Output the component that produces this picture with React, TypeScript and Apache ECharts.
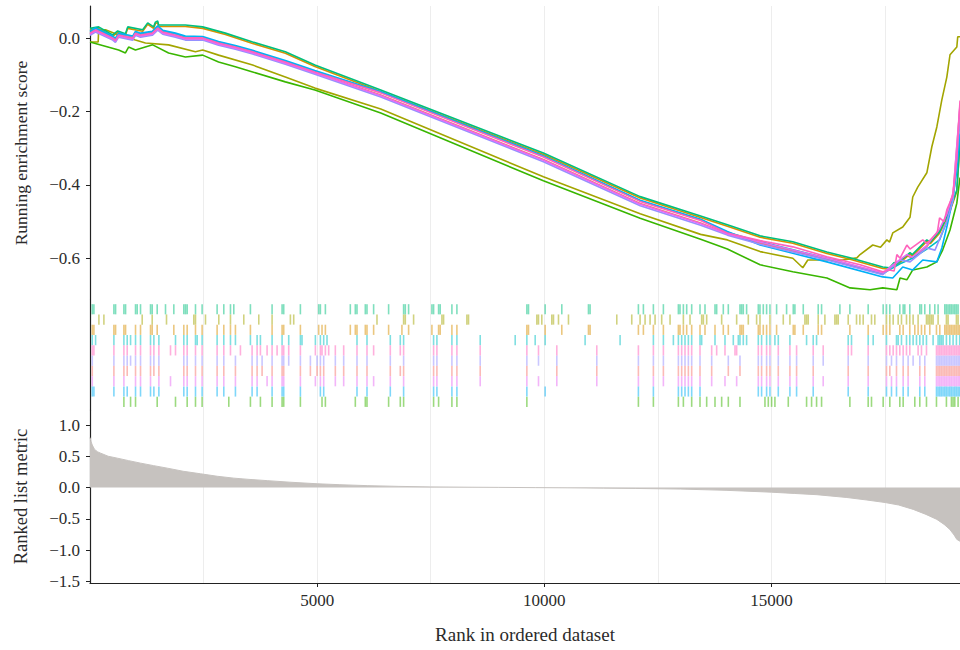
import React, { useEffect, useRef } from 'react';
import * as echarts from 'echarts';

const X_MAX = 19150;
const xTickLabels = [5000, 10000, 15000];
const esTicks = [-0.6, -0.4, -0.2, 0];
const metricTicks = [-1.5, -1, -0.5, 0, 0.5, 1];

// Running enrichment score curves: [rank, ES]
const curveSalmon = [[0,0.011],[120,0.02],[500,-0.002],[560,-0.008],[630,0.006],[940,-0.002],[1000,0.011],[1110,0.006],[1370,0.011],[1490,0.025],[1600,0.014],[1880,0.006],[2100,-0.002],[2480,-0.002],[2830,-0.016],[3200,-0.027],[3580,-0.04],[4300,-0.068],[4950,-0.095],[6400,-0.155],[9980,-0.331],[12110,-0.451],[13440,-0.504],[14030,-0.533],[14750,-0.559],[16220,-0.603],[17450,-0.643],[17760,-0.613],[17980,-0.593],[18100,-0.6],[18420,-0.568],[18700,-0.523],[18860,-0.483],[19000,-0.423],[19150,-0.185]];
const curveOrange = [[0,0.023],[190,0.027],[500,0.005],[610,0.016],[780,0.008],[830,0.027],[1160,0.019],[1270,0.038],[1400,0.027],[1440,0.04],[1490,0.043],[1510,0.032],[2100,0.032],[2480,0.027],[2980,0.01],[3580,-0.014],[4300,-0.041],[4950,-0.077],[6400,-0.145],[9980,-0.317],[12110,-0.436],[13440,-0.489],[14030,-0.513],[14750,-0.543],[15470,-0.559],[16220,-0.587],[16730,-0.603],[17450,-0.628],[17600,-0.63],[17700,-0.616],[17760,-0.619],[18050,-0.589],[18100,-0.594],[18420,-0.554],[18500,-0.56],[18700,-0.532],[18930,-0.472],[19080,-0.418],[19150,-0.284]];
const curveOlive = [[0,-0.01],[180,-0.01],[190,0.023],[340,0.023],[630,0.009],[1000,-0.005],[1220,-0.013],[1730,-0.018],[2320,-0.037],[2480,-0.032],[2830,-0.046],[3580,-0.073],[4300,-0.106],[4950,-0.136],[6400,-0.193],[9980,-0.378],[12110,-0.479],[13440,-0.535],[14030,-0.55],[14750,-0.582],[15470,-0.6],[15690,-0.626],[15800,-0.605],[16570,-0.605],[16880,-0.599],[16950,-0.59],[17230,-0.564],[17400,-0.57],[17540,-0.55],[17600,-0.556],[17670,-0.531],[17890,-0.515],[18050,-0.488],[18110,-0.433],[18220,-0.406],[18420,-0.367],[18530,-0.296],[18640,-0.242],[18750,-0.168],[18860,-0.106],[18930,-0.045],[19080,-0.024],[19100,0.004],[19150,0.004]];
const curveGreen = [[0,-0.01],[630,-0.032],[780,-0.04],[850,-0.024],[1000,-0.032],[1380,-0.018],[1730,-0.04],[2100,-0.051],[2480,-0.046],[2830,-0.065],[3200,-0.078],[3580,-0.092],[4300,-0.119],[4950,-0.141],[6400,-0.204],[9980,-0.389],[12110,-0.491],[13440,-0.548],[14030,-0.575],[14750,-0.618],[15470,-0.637],[16220,-0.654],[16730,-0.681],[17170,-0.686],[17450,-0.681],[17760,-0.686],[17830,-0.654],[17980,-0.659],[18110,-0.632],[18420,-0.624],[18640,-0.61],[18770,-0.577],[18930,-0.523],[19080,-0.45],[19150,-0.38]];
const curveTeal = [[0,0.027],[190,0.031],[500,0.009],[610,0.02],[780,0.012],[830,0.031],[1160,0.023],[1270,0.042],[1400,0.031],[1440,0.044],[1490,0.047],[1510,0.036],[2100,0.036],[2480,0.031],[2980,0.014],[3580,-0.01],[4300,-0.037],[4950,-0.073],[6400,-0.141],[9980,-0.313],[12110,-0.432],[13440,-0.485],[14030,-0.509],[14750,-0.539],[15470,-0.555],[16220,-0.583],[16730,-0.599],[17450,-0.624],[17600,-0.626],[17700,-0.612],[17760,-0.615],[18050,-0.585],[18100,-0.59],[18420,-0.55],[18500,-0.556],[18700,-0.528],[18930,-0.468],[19080,-0.414],[19150,-0.28]];
const curveCyan = [[0,0.016],[120,0.025],[500,0.003],[560,-0.003],[630,0.011],[940,0.003],[1000,0.016],[1110,0.011],[1370,0.016],[1490,0.03],[1600,0.019],[1880,0.011],[2100,0.003],[2480,0.003],[2830,-0.011],[3200,-0.022],[3580,-0.035],[4300,-0.063],[4950,-0.09],[6400,-0.147],[9980,-0.322],[12110,-0.443],[13440,-0.495],[14030,-0.529],[14750,-0.555],[16220,-0.6],[17450,-0.642],[17830,-0.615],[18100,-0.6],[18420,-0.575],[18700,-0.55],[18860,-0.5],[19000,-0.43],[19080,-0.35],[19150,-0.2]];
const curveBlue = [[0,0.019],[120,0.028],[500,0.006],[560,0.0],[630,0.014],[940,0.006],[1000,0.019],[1110,0.014],[1370,0.019],[1490,0.034],[1600,0.022],[1880,0.014],[2100,0.006],[2480,0.005],[2830,-0.009],[3200,-0.02],[3580,-0.033],[4300,-0.061],[4950,-0.088],[6400,-0.146],[9980,-0.321],[12110,-0.442],[13440,-0.494],[14030,-0.527],[14750,-0.564],[16220,-0.61],[17450,-0.651],[17670,-0.654],[17890,-0.624],[18110,-0.632],[18330,-0.605],[18640,-0.61],[18750,-0.572],[18860,-0.515],[18990,-0.441],[19080,-0.36],[19150,-0.26]];
const curveLavender = [[0,0.008],[120,0.017],[500,-0.005],[560,-0.011],[630,0.003],[940,-0.005],[1000,0.008],[1110,0.003],[1370,0.008],[1490,0.022],[1600,0.011],[1880,0.003],[2100,-0.005],[2480,-0.005],[2830,-0.019],[3200,-0.03],[3580,-0.043],[4300,-0.071],[4950,-0.098],[6400,-0.16],[9980,-0.337],[12110,-0.457],[13440,-0.51],[14030,-0.537],[14750,-0.562],[16220,-0.605],[17450,-0.645],[17830,-0.605],[18050,-0.61],[18420,-0.572],[18600,-0.578],[18860,-0.5],[19000,-0.44],[19150,-0.22]];
const curveOrchid = [[0,0.011],[120,0.02],[500,-0.002],[560,-0.008],[630,0.006],[940,-0.002],[1000,0.011],[1110,0.006],[1370,0.011],[1490,0.025],[1600,0.014],[1880,0.006],[2100,-0.002],[2480,-0.002],[2830,-0.016],[3200,-0.027],[3580,-0.04],[4300,-0.068],[4950,-0.095],[6400,-0.157],[9980,-0.333],[12110,-0.453],[13440,-0.506],[14030,-0.534],[14750,-0.556],[16220,-0.6],[17450,-0.64],[17760,-0.61],[17980,-0.59],[18100,-0.597],[18420,-0.565],[18700,-0.52],[18860,-0.48],[19000,-0.42],[19150,-0.18]];
const curvePink = [[0,0.014],[120,0.023],[500,0.001],[560,-0.005],[630,0.009],[940,0.001],[1000,0.014],[1110,0.009],[1370,0.014],[1490,0.028],[1600,0.017],[1880,0.009],[2100,0.001],[2480,0.001],[2830,-0.013],[3200,-0.024],[3580,-0.037],[4300,-0.065],[4950,-0.092],[6400,-0.149],[9980,-0.324],[12110,-0.445],[13440,-0.497],[14030,-0.531],[14750,-0.552],[15470,-0.569],[16220,-0.596],[16950,-0.618],[17450,-0.637],[17600,-0.632],[17700,-0.635],[17760,-0.59],[17830,-0.6],[17980,-0.564],[18050,-0.575],[18330,-0.55],[18420,-0.56],[18650,-0.53],[18700,-0.49],[18800,-0.5],[18860,-0.468],[18990,-0.43],[19080,-0.33],[19150,-0.17]];

// Hit positions (ranks) per gene set
const hitsTeal = [50,86,526,563,746,783,1002,1039,1112,1332,1369,1479,1662,1845,2065,2102,2139,2322,2468,2798,2945,3092,3165,3531,4008,4228,4264,4631,5034,5071,5181,5730,5840,5877,6060,6097,6243,6573,6903,6940,7013,7526,7563,7673,7709,7966,8076,9616,9652,10019,10385,10972,11008,12071,12181,12401,12621,12951,12987,13061,13134,13244,13427,13537,13757,13794,13940,14050,14307,14343,14380,14453,14710,14747,14820,14893,14967,15113,15333,15480,15516,15700,16029,16103,16506,16726,17129,17459,17532,17605,17825,17899,17935,18045,18265,18302,18375,18485,18595,18668,18815,18851,18888,18925,18961,18998,19035,19071,19108];
const hitsOlive = [196,306,1149,1369,1684,2285,2322,2542,2835,3092,3385,3715,4008,4411,4484,6317,6903,6940,7123,7746,7783,8296,8332,9836,9872,9945,10165,10202,10312,10532,11595,11925,12108,12218,12328,12438,12584,12768,13061,13207,13464,13501,13574,13904,14234,14490,14673,14747,14967,15260,15406,15736,15773,15809,16029,16176,16396,16433,16469,16689,16872,16946,17019,17202,17275,17532,17605,17679,17789,17862,17972,18045,18118,18228,18412,18448,18485,18522,18558,18668,18851,18888,19071,19108];
const hitsOrange = [50,86,526,563,746,783,1002,1112,1332,1369,1479,1845,2065,2139,2322,2468,2798,2945,3092,3201,3531,4008,4228,4264,4631,5034,5107,5181,5730,5840,5877,6060,6097,6243,6573,6866,7013,7526,7673,7709,7966,8076,9616,9652,10019,10385,10972,11008,12071,12181,12401,12621,12951,12987,13061,13134,13244,13427,13537,13757,13940,14050,14307,14343,14380,14710,14747,14820,14893,14967,15113,15480,15516,15700,16029,16103,16726,17129,17459,17532,17605,17825,17899,18045,18155,18228,18302,18375,18485,18632,18705,18815,18851,18888,18925,18961,18998,19035,19071,19108,19144];
const hitsCyan = [50,123,526,746,819,893,1002,1112,1332,1406,1516,1882,2065,2139,2322,2359,2468,2798,2945,3092,3201,3531,3678,3751,4008,4228,4374,4631,4667,4961,5071,5144,5217,5877,6097,6610,6830,6903,7563,7636,7966,8076,8589,9359,9616,9799,10019,10898,11668,12401,12621,12841,12951,13024,13097,13171,13244,13427,13464,13757,13977,14160,14270,14307,14380,14453,14710,14783,14893,14967,15076,15150,15406,15773,15919,15993,16689,16762,17129,17239,17532,17752,17789,17862,17972,18045,18118,18192,18265,18338,18412,18558,18668,18705,18741,18778,18851,18925,18998,19071,19144];
const hitsPink = [50,86,526,746,819,1002,1112,1332,1406,1516,1772,1882,2065,2139,2322,2468,2798,2945,3092,3311,3568,3678,3751,3898,4008,4118,4228,4264,4374,4631,4961,5071,5107,5181,5254,5400,5584,5877,6097,6243,6610,6830,6903,7563,7636,7966,8076,8589,9616,9872,10275,11155,12071,12401,12621,12951,13024,13097,13171,13244,13427,13684,13794,13977,14197,14234,14710,14783,14893,14967,15150,15406,15553,15919,16139,16689,16762,17129,17532,17605,17679,17752,17825,17899,17972,18045,18228,18302,18412,18632,18668,18705,18741,18778,18815,18851,18888,18925,18961,18998,19035,19071,19108,19144];
const hitsLavender = [50,526,746,819,893,1002,1112,1332,1406,1516,2065,2139,2322,2468,2798,2945,3201,3568,3678,3788,4008,4228,4264,4374,4631,4851,4997,5071,5144,5400,5584,5877,6097,6610,6903,7563,7636,7966,8076,8589,9616,9872,10275,11155,12071,12401,12621,12951,13024,13097,13171,13244,13427,13684,14050,14307,14710,14783,14893,14967,15150,15406,15553,15919,16139,16689,17129,17532,17642,17752,17899,18008,18118,18265,18375,18632,18668,18705,18741,18778,18815,18851,18888,18925,18961,18998,19035,19071,19108,19144];
const hitsSalmon = [50,526,746,819,1002,1112,1332,1406,1516,2065,2139,2322,2468,2798,2945,3201,3568,3678,3788,4008,4228,4264,4631,4851,4997,5071,5144,5400,5584,5877,6097,6610,6830,6903,7563,7636,7966,8076,8589,9616,10275,11155,12071,12401,12621,12951,13024,13097,13171,13244,13427,13684,14050,14307,14710,14783,14893,14967,15150,15406,15553,15919,16689,17129,17532,17605,17752,17899,18008,18265,18375,18632,18668,18705,18741,18778,18815,18851,18888,18925,18961,18998,19035,19071,19108,19144];
const hitsOrchid = [50,526,746,1002,1112,1332,1516,1772,2065,2139,2322,2468,2798,2945,3201,3568,3678,3898,4008,4228,4264,4631,4961,5071,5144,5400,5584,5877,6097,6243,6610,6903,7563,7636,7966,8076,8589,9616,9872,10275,11155,12071,12401,12621,12951,13024,13097,13171,13244,13427,13684,13977,14234,14710,14783,14893,14967,15150,15406,15553,15919,16139,16689,17129,17532,17642,17752,17899,18008,18265,18375,18632,18668,18705,18741,18778,18815,18851,18888,18925,18961,18998,19035,19071,19108,19144];
const hitsBlue = [50,86,526,746,819,1002,1112,1332,1406,1516,2065,2139,2322,2468,2798,2945,3201,3568,3678,4008,4228,4264,4631,5071,5144,5877,6097,6610,6903,7563,7636,7966,8076,9616,10019,12071,12401,12951,13024,13097,13171,13244,13427,14710,14783,14893,14967,15150,15406,15553,15919,16689,17129,17532,17642,17752,17899,18008,18265,18375,18632,18668,18705,18741,18778,18815,18851,18888,18925,18961,18998,19035,19071,19108,19144];
const hitsGreen = [746,893,1002,1479,1882,2139,2322,2468,3055,3531,3751,4008,4228,4264,4631,5107,5181,5840,6060,6097,6573,6830,6903,7563,7673,7966,8076,9616,12071,12401,12951,13061,13244,13427,13574,13757,13904,14050,14307,14857,14930,15003,15076,15370,15773,15883,15993,16103,16726,17129,17202,17459,17605,17825,17899,18155,18265,18412,18632,18851,18961,18998,19035,19108];

// Ranked list metric
const metricRank = [0, 20, 50, 100, 170, 233, 400, 600, 850, 1113, 1400, 1700, 2050, 2430, 2800, 3165, 3500, 3900, 4400, 5000, 5500, 6100, 6800, 7500, 8300, 9000, 9800, 10500, 11300, 12000, 13000, 14000, 15000, 15500, 16000, 16660, 17100, 17500, 17800, 18120, 18400, 18640, 18800, 18925, 19020, 19080, 19150];
const metricValue = [0.8, 0.74, 0.68, 0.61, 0.57, 0.55, 0.5, 0.47, 0.43, 0.39, 0.35, 0.31, 0.26, 0.22, 0.18, 0.15, 0.13, 0.11, 0.085, 0.06, 0.045, 0.03, 0.018, 0.01, 0.005, 0.002, -0.002, -0.005, -0.01, -0.015, -0.025, -0.045, -0.075, -0.095, -0.115, -0.16, -0.2, -0.24, -0.28, -0.35, -0.43, -0.51, -0.59, -0.67, -0.76, -0.83, -0.86];

const gseaSets = [
  { name: 'Gene set 1', color: '#F8766D', curve: curveSalmon, hits: hitsSalmon, row: 6 },
  { name: 'Gene set 2', color: '#D89000', curve: curveOrange, hits: hitsOrange, row: 2 },
  { name: 'Gene set 3', color: '#A3A500', curve: curveOlive, hits: hitsOlive, row: 1 },
  { name: 'Gene set 4', color: '#39B600', curve: curveGreen, hits: hitsGreen, row: 9 },
  { name: 'Gene set 5', color: '#00BF7D', curve: curveTeal, hits: hitsTeal, row: 0 },
  { name: 'Gene set 6', color: '#00BFC4', curve: curveCyan, hits: hitsCyan, row: 3 },
  { name: 'Gene set 7', color: '#00B0F6', curve: curveBlue, hits: hitsBlue, row: 8 },
  { name: 'Gene set 8', color: '#9590FF', curve: curveLavender, hits: hitsLavender, row: 5 },
  { name: 'Gene set 9', color: '#E76BF3', curve: curveOrchid, hits: hitsOrchid, row: 7 },
  { name: 'Gene set 10', color: '#FF62BC', curve: curvePink, hits: hitsPink, row: 4 },
];

const FONT = "'Liberation Serif', 'DejaVu Serif', serif";
const AXIS_COLOR = '#222';
const TEXT_COLOR = '#2b2b2b';
const GRID_COLOR = '#ededed';
const METRIC_COLOR = '#c6c2bf';

const fmt = (v: number) => {
  const s = Math.abs(v).toFixed(1);
  return v < -1e-9 ? '\u2212' + s : s;
};

export default function App() {
  const ref = useRef<HTMLDivElement>(null);
  useEffect(() => {
    document.body.style.margin = '0';
    if (!ref.current) return;
    const chart = echarts.init(ref.current, undefined, { renderer: 'svg' });

    const gridX = (gridIndex: number) => ({
      gridIndex,
      type: 'value' as const,
      min: 0,
      max: X_MAX,
      interval: 2500,
      axisLine: { show: false },
      axisTick: { show: false },
      axisLabel: { show: false },
      splitLine: { show: true, lineStyle: { color: GRID_COLOR, width: 1 } },
    });

    const series: any[] = [];
    gseaSets.forEach((s) => {
      series.push({
        name: s.name,
        type: 'line',
        xAxisIndex: 0,
        yAxisIndex: 0,
        data: s.curve,
        showSymbol: false,
        symbol: 'none',
        silent: true,
        lineStyle: { color: s.color, width: 1.6 },
        itemStyle: { color: s.color },
      });
    });
    gseaSets.forEach((s) => {
      series.push({
        name: s.name + ' hits',
        type: 'scatter',
        xAxisIndex: 1,
        yAxisIndex: 1,
        symbol: 'rect',
        symbolSize: [1.6, 10.2],
        silent: true,
        itemStyle: { color: s.color, opacity: 0.5 },
        data: s.hits.map((h) => [h, s.row + 0.5]),
      });
    });
    series.push({
      name: 'Ranked list metric',
      type: 'line',
      xAxisIndex: 3,
      yAxisIndex: 2,
      data: metricRank.map((r, i) => [r, metricValue[i]]),
      showSymbol: false,
      symbol: 'none',
      smooth: false,
      silent: true,
      lineStyle: { width: 1, color: METRIC_COLOR },
      areaStyle: { color: METRIC_COLOR, opacity: 1 },
    });

    chart.setOption({
      animation: false,
      textStyle: { fontFamily: FONT },
      grid: [
        { left: 90, right: 0, top: 6, height: 294 },
        { left: 90, right: 0, top: 300, height: 110 },
        { left: 90, right: 0, top: 410, height: 173 },
      ],
      xAxis: [
        gridX(0),
        gridX(1),
        gridX(2),
        {
          gridIndex: 2,
          type: 'value',
          position: 'bottom',
          min: 0,
          max: X_MAX,
          axisLine: { show: true, lineStyle: { color: AXIS_COLOR, width: 1.2 } },
          axisTick: { show: true, length: 4, customValues: xTickLabels, lineStyle: { color: AXIS_COLOR } },
          axisLabel: { customValues: xTickLabels, formatter: (v: number) => String(v), fontSize: 17, color: TEXT_COLOR, fontFamily: FONT, margin: 9 },
          splitLine: { show: false },
          name: 'Rank in ordered dataset',
          nameLocation: 'middle',
          nameGap: 42,
          nameTextStyle: { fontSize: 19, color: TEXT_COLOR, fontFamily: FONT },
        },
      ],
      yAxis: [
        {
          gridIndex: 0,
          type: 'value',
          min: -0.714,
          max: 0.088,
          axisLine: { show: true, lineStyle: { color: AXIS_COLOR, width: 1.2 } },
          axisTick: { show: true, length: 4, customValues: esTicks, lineStyle: { color: AXIS_COLOR } },
          axisLabel: { customValues: esTicks, formatter: fmt, fontSize: 17, color: TEXT_COLOR, fontFamily: FONT, margin: 10 },
          splitLine: { show: false },
          name: 'Running enrichment score',
          nameLocation: 'middle',
          nameGap: 60,
          nameRotate: 90,
          nameTextStyle: { fontSize: 17.5, color: TEXT_COLOR, fontFamily: FONT },
        },
        {
          gridIndex: 1,
          type: 'value',
          min: -0.4,
          max: 10.3,
          inverse: true,
          axisLine: { show: true, lineStyle: { color: AXIS_COLOR, width: 1.2 } },
          axisTick: { show: false },
          axisLabel: { show: false },
          splitLine: { show: false },
        },
        {
          gridIndex: 2,
          type: 'value',
          min: -1.528,
          max: 1.24,
          axisLine: { show: true, lineStyle: { color: AXIS_COLOR, width: 1.2 } },
          axisTick: { show: true, length: 4, customValues: metricTicks, lineStyle: { color: AXIS_COLOR } },
          axisLabel: { customValues: metricTicks, formatter: fmt, fontSize: 17, color: TEXT_COLOR, fontFamily: FONT, margin: 10 },
          splitLine: { show: false },
          name: 'Ranked list metric',
          nameLocation: 'middle',
          nameGap: 60,
          nameRotate: 90,
          nameTextStyle: { fontSize: 18.5, color: TEXT_COLOR, fontFamily: FONT },
        },
      ],
      series,
    });
    return () => chart.dispose();
  }, []);
  return <div ref={ref} style={{ width: 960, height: 650 }} />;
}
